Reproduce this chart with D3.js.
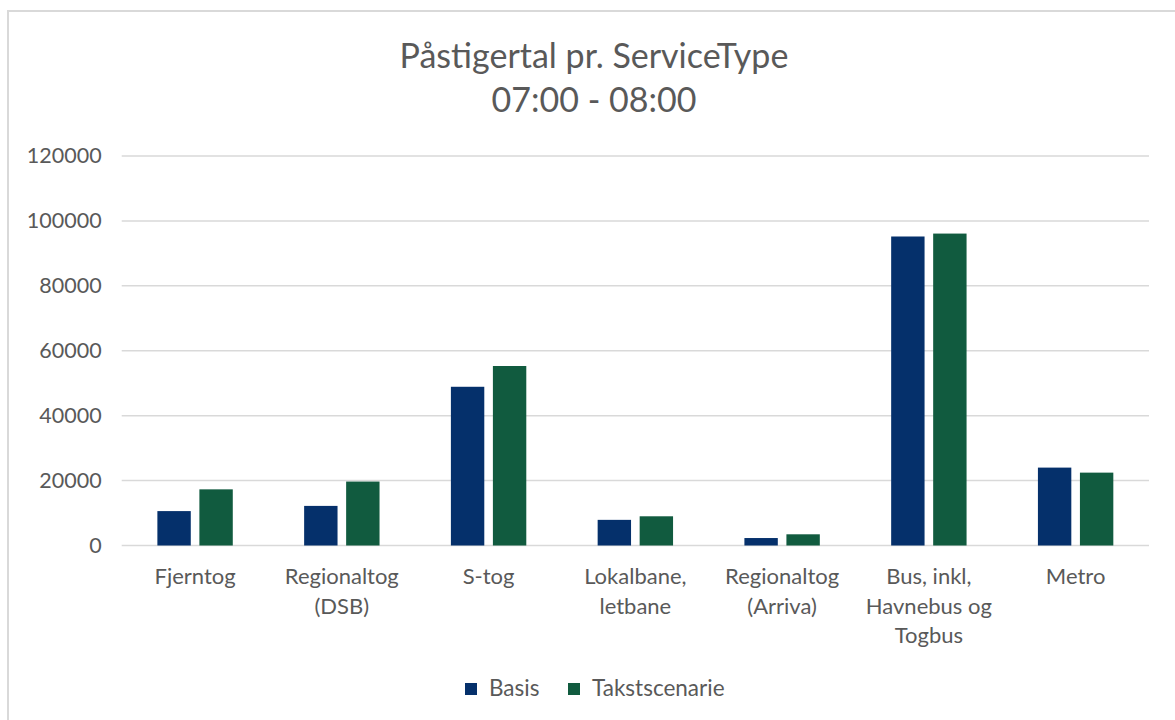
<!DOCTYPE html>
<html>
<head>
<meta charset="utf-8">
<script src="https://cdn.jsdelivr.net/npm/d3@7"></script>
<style>
  html, body { margin: 0; padding: 0; background: #fff; }
  svg { display: block; }
  text { font-family: Lato, "Open Sans", sans-serif; fill: #595959; }
</style>
</head>
<body>
<svg id="chart" width="1175" height="720"></svg>
<script>
const categories = [
  ["Fjerntog"],
  ["Regionaltog", "(DSB)"],
  ["S-tog"],
  ["Lokalbane,", "letbane"],
  ["Regionaltog", "(Arriva)"],
  ["Bus, inkl,", "Havnebus og", "Togbus"],
  ["Metro"]
];
const seriesNames = ["Basis", "Takstscenarie"];
const basis = [10600, 12200, 48900, 7900, 2300, 95200, 24000];
const takst = [17300, 19700, 55300, 9000, 3450, 96100, 22450];
const yTicks = [0, 20000, 40000, 60000, 80000, 100000, 120000];
const titleLines = ["Påstigertal pr. ServiceType", "07:00 - 08:00"];
const colors = ["#05306b", "#115b3f"];

const svg = d3.select("#chart");
const W = 1175, H = 720;

// outer chart border
svg.append("rect")
  .attr("x", 8).attr("y", 11)
  .attr("width", W).attr("height", H)
  .attr("fill", "#fff").attr("stroke", "#d9d9d9").attr("stroke-width", 2);

const plotLeft = 121.7, plotRight = 1149, plotTop = 156, plotBottom = 545.5;

const y = d3.scaleLinear().domain([0, 120000]).range([plotBottom, plotTop]);
const keys = categories.map(c => c.join(" "));
const x0 = d3.scaleBand().domain(keys).range([plotLeft, plotRight]).padding(0);
const groupW = 75.4;
const x1 = d3.scaleBand().domain(seriesNames).range([0, groupW]).paddingInner(0.205).paddingOuter(0);
const groupOffset = (x0.bandwidth() - groupW) / 2;

// gridlines
svg.append("g")
  .selectAll("line")
  .data(yTicks)
  .join("line")
  .attr("x1", plotLeft).attr("x2", plotRight)
  .attr("y1", d => y(d)).attr("y2", d => y(d))
  .attr("stroke", "#d9d9d9").attr("stroke-width", 1.5);

// y axis labels
const yAxis = d3.axisLeft(y).tickValues(yTicks).tickSize(0).tickPadding(0).tickFormat(d3.format("d"));
const yg = svg.append("g").attr("transform", `translate(${plotLeft - 20},0)`).call(yAxis);
yg.select(".domain").remove();
yg.selectAll("text")
  .style("font-family", "Lato, 'Open Sans', sans-serif")
  .style("font-size", "21.5px").attr("fill", "#595959");

// bars
const data = keys.map((k, i) => ({ key: k, values: [basis[i], takst[i]] }));
const groups = svg.append("g")
  .selectAll("g")
  .data(data)
  .join("g")
  .attr("transform", d => `translate(${x0(d.key) + groupOffset},0)`);
groups.selectAll("rect")
  .data(d => d.values.map((v, j) => ({ name: seriesNames[j], v, j })))
  .join("rect")
  .attr("x", d => x1(d.name))
  .attr("y", d => y(d.v))
  .attr("width", x1.bandwidth())
  .attr("height", d => plotBottom - y(d.v))
  .attr("fill", d => colors[d.j]);

// category labels
const xl = svg.append("g");
categories.forEach((lines, i) => {
  const cx = x0(keys[i]) + x0.bandwidth() / 2;
  const t = xl.append("text")
    .attr("text-anchor", "middle")
    .attr("font-size", "22px");
  lines.forEach((ln, k) => {
    t.append("tspan").attr("x", cx).attr("y", 584 + k * 29.5).text(ln);
  });
});

// title
const tt = svg.append("text").attr("text-anchor", "middle").attr("font-size", "34px");
titleLines.forEach((ln, k) => {
  tt.append("tspan").attr("x", 594).attr("y", 68 + k * 44).text(ln);
});

// legend
const legend = svg.append("g");
const legX = [465, 568];
seriesNames.forEach((s, j) => {
  legend.append("rect").attr("x", legX[j]).attr("y", 683).attr("width", 12).attr("height", 12).attr("fill", colors[j]);
  legend.append("text").attr("x", legX[j] + 24).attr("y", 696).attr("font-size", "22.5px").text(s);
});
</script>
</body>
</html>
